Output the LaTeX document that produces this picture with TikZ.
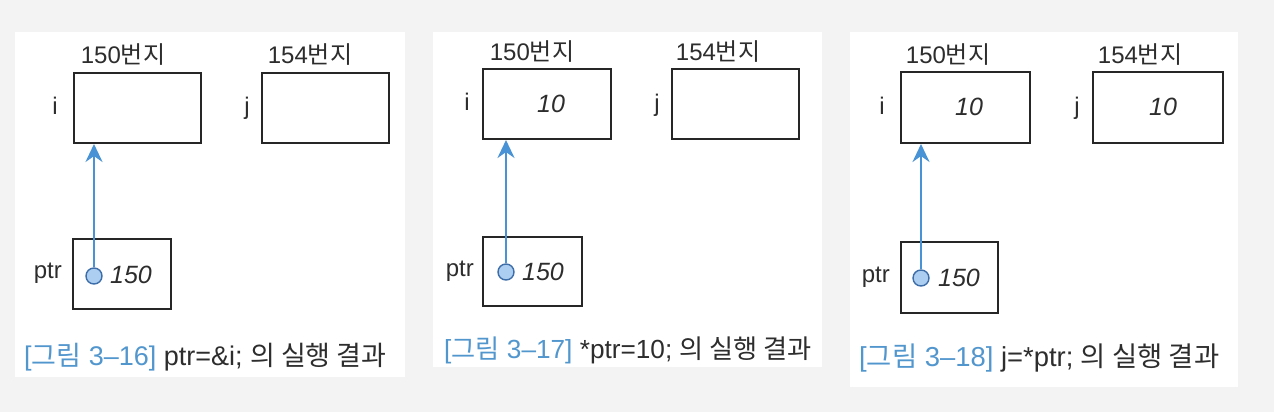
\documentclass[tikz,border=0pt]{standalone}
\usepackage{fontspec}
\setmainfont{Liberation Sans}
\newfontfamily\kr{Noto Sans CJK KR}
\usetikzlibrary{arrows.meta}
\definecolor{bg}{RGB}{243,243,243}
\definecolor{txt}{RGB}{45,45,45}
\definecolor{arblue}{RGB}{72,146,214}
\definecolor{capblue}{RGB}{82,150,206}
\definecolor{dotfill}{RGB}{172,206,240}
\definecolor{dotline}{RGB}{62,110,170}
\tikzset{
  panel/.style={fill=white, draw=none},
  membox/.style={draw=black!85, line width=2pt, inner sep=0pt, fill=white},
  lbl/.style={text=txt, inner sep=0pt, font=\fontsize{24}{28}\selectfont},
  val/.style={text=txt, inner sep=0pt, font=\fontsize{25}{28}\selectfont\itshape},
  dot/.style={circle, draw=dotline, fill=dotfill, line width=1.4pt, minimum size=16pt, inner sep=0pt},
  arr/.style={draw=arblue, line width=2.8pt, -{Stealth[length=18pt, width=17pt, inset=6pt]}},
  captxt/.style={text=txt, inner sep=0pt, anchor=west, font=\fontsize{27}{30}\selectfont},
}
\newcommand{\bunji}[1]{#1{\kr 번지}}
\begin{document}
\begin{tikzpicture}[x=1pt, y=-1pt]
\fill[bg] (0,0) rectangle (1274,412);
\useasboundingbox (0,0) rectangle (1274,412);
% panels
\fill[panel] (15,32) rectangle (405,377);
\fill[panel] (433,32) rectangle (822,367);
\fill[panel] (850,32) rectangle (1238,387);

% ---------- panel 1 ----------
\node[membox, minimum width=127pt, minimum height=70pt] (i1) at (137.5,108) {};
\node[membox, minimum width=127pt, minimum height=70pt] (j1) at (325.5,108) {};
\node[membox, minimum width=98pt, minimum height=70pt] (p1) at (122,274) {};
\node[lbl] (a1) at (123,55) {\bunji{150}};
\node[lbl] (b1) at (310,55) {\bunji{154}};
\node[lbl] (li1) at (55,106) {i};
\node[lbl] (lj1) at (247,108) {j};
\node[lbl, anchor=east] (lp1) at (62,273) {ptr};
\node[val] (v1) at (131,275) {150};
\node[dot] (c1) at (94,276) {};
\draw[arr] (c1.north) -- (c1.north |- i1.south);
\node[captxt] (t1) at (24,357) {\textcolor{capblue}{[{\kr 그림} 3–16]} ptr=\&i; {\kr 의 실행 결과}};

% ---------- panel 2 ----------
\node[membox, minimum width=128pt, minimum height=70pt] (i2) at (547,104) {};
\node[membox, minimum width=127pt, minimum height=70pt] (j2) at (735.5,104) {};
\node[membox, minimum width=99pt, minimum height=69pt] (p2) at (532.5,271.5) {};
\node[lbl] (a2) at (532,52) {\bunji{150}};
\node[lbl] (b2) at (718,52) {\bunji{154}};
\node[lbl] (li2) at (467,102) {i};
\node[lbl] (lj2) at (657,105) {j};
\node[val] (vi2) at (551,104) {10};
\node[lbl, anchor=east] (lp2) at (474,271) {ptr};
\node[val] (v2) at (543,272) {150};
\node[dot] (c2) at (506,272) {};
\draw[arr] (c2.north) -- (c2.north |- i2.south);
\node[captxt, font=\fontsize{26.2}{30}\selectfont] (t2) at (444,350) {\textcolor{capblue}{[{\kr 그림} 3–17]} *ptr=10; {\kr 의 실행 결과}};

% ---------- panel 3 ----------
\node[membox, minimum width=129pt, minimum height=71pt] (i3) at (965.5,107.5) {};
\node[membox, minimum width=130pt, minimum height=71pt] (j3) at (1158,107.5) {};
\node[membox, minimum width=97pt, minimum height=71pt] (p3) at (949.5,277.5) {};
\node[lbl] (a3) at (948,55) {\bunji{150}};
\node[lbl] (b3) at (1140,55) {\bunji{154}};
\node[lbl] (li3) at (882,106) {i};
\node[lbl] (lj3) at (1077,108) {j};
\node[val] (vi3) at (969,107) {10};
\node[val] (vj3) at (1163,107) {10};
\node[lbl, anchor=east] (lp3) at (890,277) {ptr};
\node[val] (v3) at (959,278) {150};
\node[dot] (c3) at (921,278) {};
\draw[arr] (c3.north) -- (c3.north |- i3.south);
\node[captxt, font=\fontsize{27.4}{30}\selectfont] (t3) at (859,358) {\textcolor{capblue}{[{\kr 그림} 3–18]} j=*ptr; {\kr 의 실행 결과}};
\end{tikzpicture}
\end{document}
